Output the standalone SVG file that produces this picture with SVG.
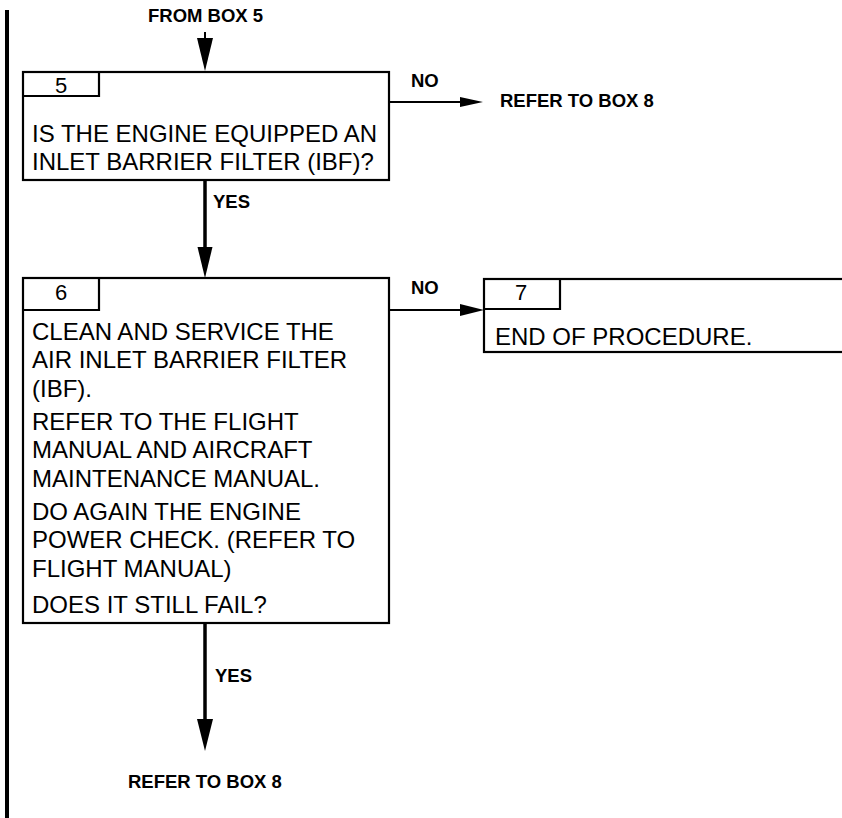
<svg xmlns="http://www.w3.org/2000/svg" width="842" height="818" viewBox="0 0 842 818">
<style>
.box{fill:#fff;stroke:#000;stroke-width:2.2}
.tab{fill:none;stroke:#000;stroke-width:2.2}
.body{font-family:"Liberation Sans",Arial,sans-serif;font-size:24px;fill:#000}
.num{font-family:"Liberation Sans",Arial,sans-serif;font-size:22px;fill:#000;text-anchor:middle}
.lbl{font-family:"Liberation Sans",Arial,sans-serif;font-size:18.5px;font-weight:bold;fill:#000}
.thick{stroke:#000;stroke-width:3.5;fill:none}
.thin{stroke:#000;stroke-width:2;fill:none}
.head{fill:#000;stroke:none}
</style>
<rect x="5" y="10" width="4" height="808" fill="#000"/>
<g id="connectors">
<line class="thin" x1="205" y1="32" x2="205" y2="40" stroke-width="1.5"/>
<polygon class="head" points="197,38 213,38 205,71"/>
<line class="thick" x1="205" y1="180" x2="205" y2="250"/>
<polygon class="head" points="197.5,247 212.5,247 205,278"/>
<line class="thick" x1="205" y1="623" x2="205" y2="722"/>
<polygon class="head" points="197,719 213,719 205,751"/>
<line class="thin" x1="389" y1="102" x2="462" y2="102"/>
<polygon class="head" points="460,97 483,102 460,107"/>
<line class="thin" x1="389" y1="310" x2="462" y2="310"/>
<polygon class="head" points="460,304 484,310 460,316"/>
<text class="lbl" x="148" y="22">FROM BOX 5</text>
<text class="lbl" x="411" y="87">NO</text>
<text class="lbl" x="500" y="107">REFER TO BOX 8</text>
<text class="lbl" x="213" y="208">YES</text>
<text class="lbl" x="411" y="294">NO</text>
<text class="lbl" x="215" y="682">YES</text>
<text class="lbl" x="128" y="788">REFER TO BOX 8</text>
</g>
<g id="box5">
<rect class="box" x="23" y="72" width="366" height="108"/>
<polyline class="tab" points="23,96 99,96 99,72"/>
<text class="num" x="61" y="93">5</text>
<text class="body" x="32" y="142">IS THE ENGINE EQUIPPED AN</text>
<text class="body" x="32" y="170">INLET BARRIER FILTER (IBF)?</text>
</g>
<g id="box6">
<rect class="box" x="23" y="278" width="366" height="345"/>
<polyline class="tab" points="23,310 99,310 99,278"/>
<text class="num" x="61" y="300">6</text>
<text class="body" x="32" y="340">CLEAN AND SERVICE THE</text>
<text class="body" x="32" y="368">AIR INLET BARRIER FILTER</text>
<text class="body" x="32" y="397">(IBF).</text>
<text class="body" x="32" y="430">REFER TO THE FLIGHT</text>
<text class="body" x="32" y="458">MANUAL AND AIRCRAFT</text>
<text class="body" x="32" y="487">MAINTENANCE MANUAL.</text>
<text class="body" x="32" y="520">DO AGAIN THE ENGINE</text>
<text class="body" x="32" y="548">POWER CHECK. (REFER TO</text>
<text class="body" x="32" y="577">FLIGHT MANUAL)</text>
<text class="body" x="32" y="613">DOES IT STILL FAIL?</text>
</g>
<g id="box7">
<rect class="box" x="484" y="279" width="380" height="73"/>
<polyline class="tab" points="484,309 560,309 560,279"/>
<text class="num" x="521" y="300">7</text>
<text class="body" x="495" y="345">END OF PROCEDURE.</text>
</g>
</svg>
